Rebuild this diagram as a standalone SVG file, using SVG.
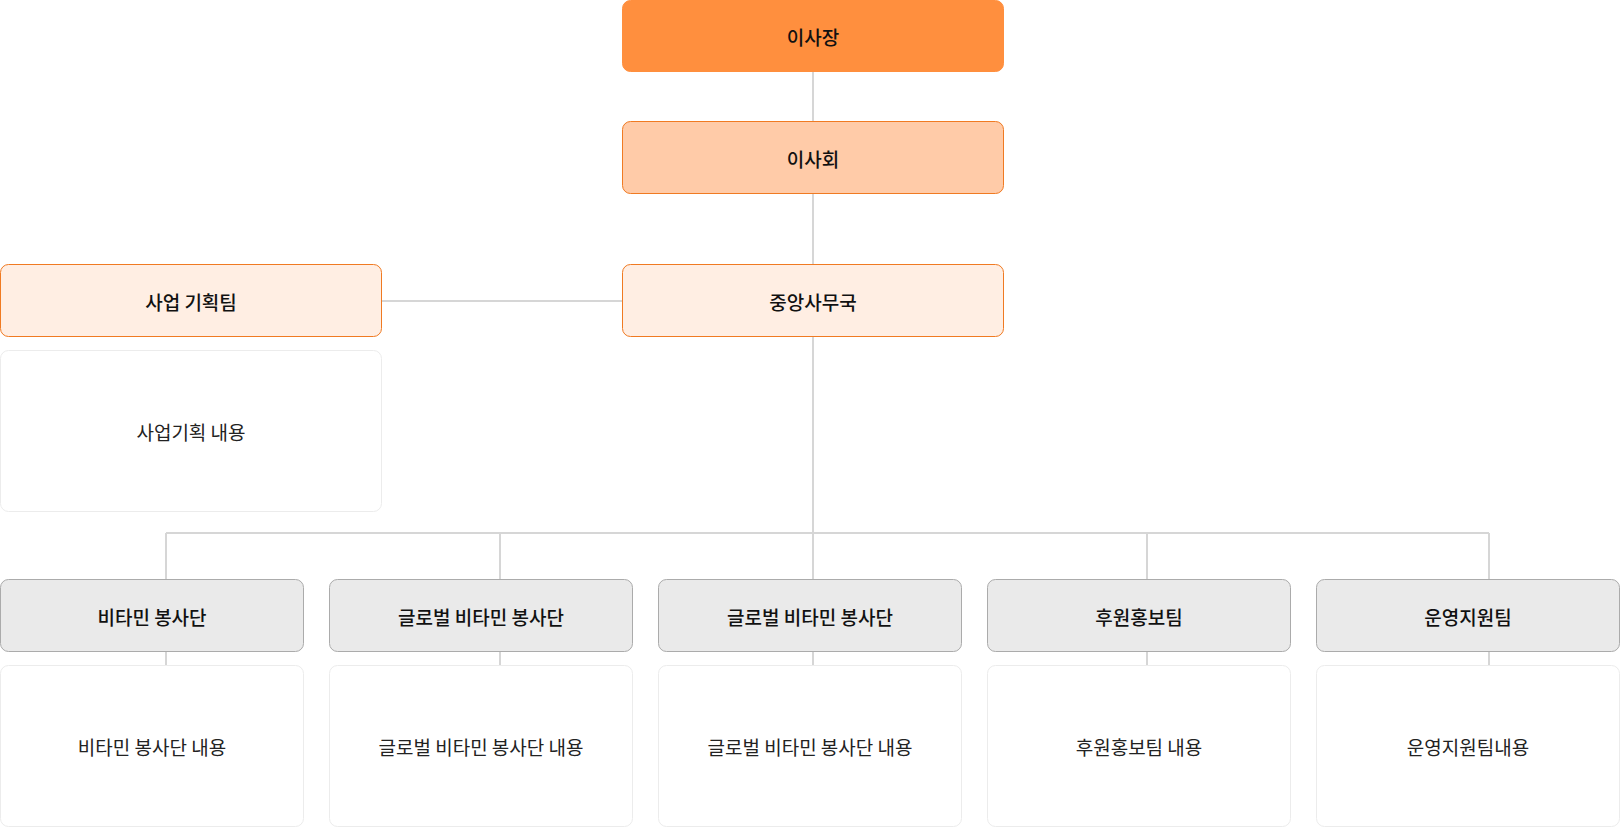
<svg xmlns="http://www.w3.org/2000/svg" width="1620" height="828" viewBox="0 0 1620 828">
<style>
text{font-family:"Noto Sans CJK KR","Noto Sans",sans-serif;text-anchor:middle;dominant-baseline:central;fill:#111}
.h{font-size:19px;font-weight:500}
.c{font-size:19px;fill:#222}
.ln{stroke:#d6d6d6;stroke-width:2;fill:none}
.g{fill:#eaeaea;stroke:#ababab;stroke-width:1}
.w{fill:#fff;stroke:#ececec;stroke-width:1}
.p{fill:#ffeee3;stroke:#f07a22;stroke-width:1}
</style>
<rect width="1620" height="828" fill="#fff"/>
<g id="connectors">
<path class="ln" d="M813 72V122M813 193V265M381 301H622M813 336V533M166 533H1489M166 533V666M500 533V666M813 533V666M1147 533V666M1489 533V666"/>
</g>
<g id="n1"><rect x="622.5" y="0.5" width="381" height="71" rx="8" fill="#ff8f3e" stroke="#ff8f3e"/><text class="h" x="813" y="36">이사장</text></g>
<g id="n2"><rect x="622.5" y="121.5" width="381" height="72" rx="8" fill="#ffcba8" stroke="#f07a22"/><text class="h" x="813" y="158">이사회</text></g>
<g id="n3"><rect class="p" x="622.5" y="264.5" width="381" height="72" rx="8"/><text class="h" x="813" y="301">중앙사무국</text></g>
<g id="n4"><rect class="p" x="0.5" y="264.5" width="381" height="72" rx="8"/><text class="h" x="191" y="301">사업 기획팀</text></g>
<g id="n4c"><rect class="w" x="0.5" y="350.5" width="381" height="161" rx="8"/><text class="c" x="191" y="431">사업기획 내용</text></g>
<g id="b1"><rect class="g" x="0.5" y="579.5" width="303" height="72" rx="8"/><text class="h" x="152" y="616">비타민 봉사단</text></g>
<g id="b1c"><rect class="w" x="0.5" y="665.5" width="303" height="161" rx="8"/><text class="c" x="152" y="746">비타민 봉사단 내용</text></g>
<g id="b2"><rect class="g" x="329.5" y="579.5" width="303" height="72" rx="8"/><text class="h" x="481" y="616">글로벌 비타민 봉사단</text></g>
<g id="b2c"><rect class="w" x="329.5" y="665.5" width="303" height="161" rx="8"/><text class="c" x="481" y="746">글로벌 비타민 봉사단 내용</text></g>
<g id="b3"><rect class="g" x="658.5" y="579.5" width="303" height="72" rx="8"/><text class="h" x="810" y="616">글로벌 비타민 봉사단</text></g>
<g id="b3c"><rect class="w" x="658.5" y="665.5" width="303" height="161" rx="8"/><text class="c" x="810" y="746">글로벌 비타민 봉사단 내용</text></g>
<g id="b4"><rect class="g" x="987.5" y="579.5" width="303" height="72" rx="8"/><text class="h" x="1139" y="616">후원홍보팀</text></g>
<g id="b4c"><rect class="w" x="987.5" y="665.5" width="303" height="161" rx="8"/><text class="c" x="1139" y="746">후원홍보팀 내용</text></g>
<g id="b5"><rect class="g" x="1316.5" y="579.5" width="303" height="72" rx="8"/><text class="h" x="1468" y="616">운영지원팀</text></g>
<g id="b5c"><rect class="w" x="1316.5" y="665.5" width="303" height="161" rx="8"/><text class="c" x="1468" y="746">운영지원팀내용</text></g>
</svg>
